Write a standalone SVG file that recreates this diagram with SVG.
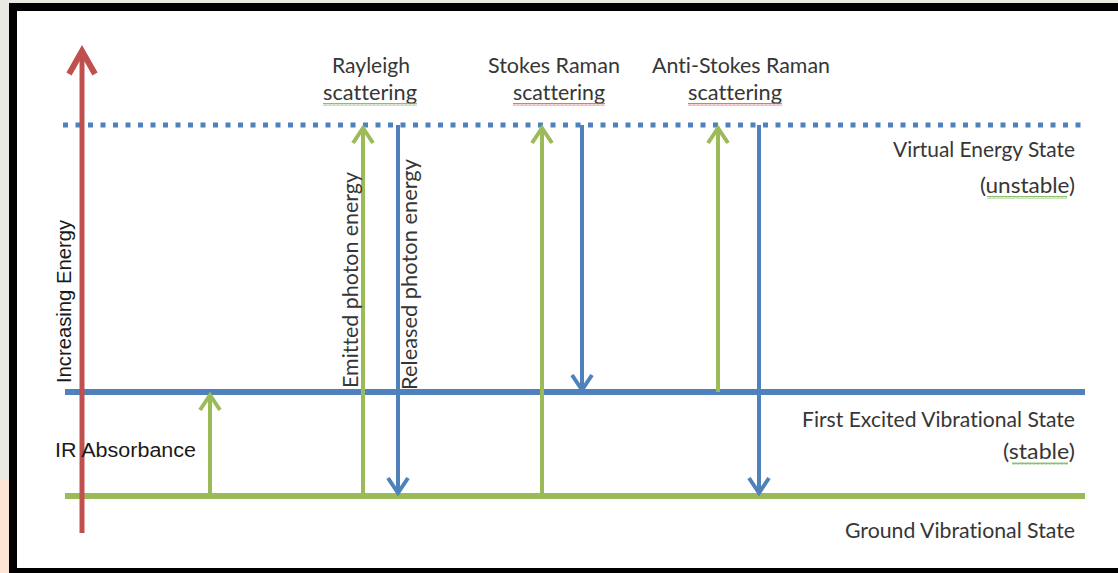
<svg xmlns="http://www.w3.org/2000/svg" width="1118" height="573" viewBox="0 0 1118 573">
  <style>
    .lbl { font-family: Lato, "Open Sans", sans-serif; font-size: 21px; fill: #363636; font-variant-ligatures: none; }
    .arial { font-family: "Liberation Sans", Arial, sans-serif; font-size: 20px; fill: #1a1a1a; }
    .g { stroke: #9bbb59; stroke-width: 4; fill: none; }
    .b { stroke: #4f81bd; stroke-width: 4; fill: none; }
    .level { stroke-width: 6; fill: none; }
  </style>
  <defs>
    <marker id="hg" markerUnits="userSpaceOnUse" markerWidth="30" markerHeight="30" viewBox="-20 -15 30 30" refX="0" refY="0" orient="auto" overflow="visible">
      <path d="M-15,-10 L0,0 L-15,10" fill="none" stroke="#9bbb59" stroke-width="4"/>
    </marker>
    <marker id="hb" markerUnits="userSpaceOnUse" markerWidth="30" markerHeight="30" viewBox="-20 -15 30 30" refX="0" refY="0" orient="auto" overflow="visible">
      <path d="M-15,-10 L0,0 L-15,10" fill="none" stroke="#4f81bd" stroke-width="4"/>
    </marker>
    <marker id="hr" markerUnits="userSpaceOnUse" markerWidth="40" markerHeight="40" viewBox="-30 -20 40 40" refX="0" refY="0" orient="auto" overflow="visible">
      <path d="M-23,-13 L0,0 L-23,13" fill="none" stroke="#c0504d" stroke-width="6"/>
    </marker>
    <pattern id="wg" width="4" height="3" patternUnits="userSpaceOnUse">
      <polyline points="0,2.5 1,0.5 2,2.5 3,0.5 4,2.5" fill="none" stroke="#6fb04a" stroke-width="0.8"/>
    </pattern>
    <pattern id="wr" width="4" height="3" patternUnits="userSpaceOnUse">
      <polyline points="0,2.5 1,0.5 2,2.5 3,0.5 4,2.5" fill="none" stroke="#e05050" stroke-width="0.8"/>
    </pattern>
  </defs>

  <!-- frame -->
  <g id="frame">
    <rect x="0" y="0" width="1118" height="573" fill="#e9e8e1"/>
    <rect x="0" y="480" width="9" height="93" fill="#fce5d6"/>
    <rect x="9" y="3" width="1109" height="570" fill="#000"/>
    <rect x="17" y="11" width="1101" height="557" fill="#ffffff"/>
  </g>

  <!-- energy levels -->
  <g id="virtual-state">
    <line x1="63" y1="125" x2="1088" y2="125" stroke="#4f81bd" stroke-width="5" stroke-dasharray="5 7.5"/>
    <text class="lbl" x="1075" y="157" text-anchor="end" textLength="182" lengthAdjust="spacingAndGlyphs">Virtual Energy State</text>
    <text class="lbl" x="1075" y="193" text-anchor="end" textLength="95" lengthAdjust="spacingAndGlyphs">(unstable)</text>
    <rect x="987" y="196" width="80" height="3" fill="url(#wg)"/>
  </g>
  <g id="first-excited-state">
    <line class="level" x1="65" y1="392" x2="1085" y2="392" stroke="#4f81bd"/>
    <text class="lbl" x="1075" y="427" text-anchor="end" textLength="273" lengthAdjust="spacingAndGlyphs">First Excited Vibrational State</text>
    <text class="lbl" x="1075" y="459" text-anchor="end" textLength="72" lengthAdjust="spacingAndGlyphs">(stable)</text>
    <rect x="1012" y="462" width="56" height="3" fill="url(#wg)"/>
  </g>
  <g id="ground-state">
    <line class="level" x1="65" y1="496" x2="1085" y2="496" stroke="#9bbb59"/>
    <text class="lbl" x="1075" y="538" text-anchor="end" textLength="230" lengthAdjust="spacingAndGlyphs">Ground Vibrational State</text>
  </g>

  <!-- axis -->
  <g id="energy-axis">
    <line x1="82" y1="533" x2="82" y2="51" stroke="#c0504d" stroke-width="5" marker-end="url(#hr)"/>
    <text class="arial" transform="translate(71,383) rotate(-90)" textLength="163" lengthAdjust="spacingAndGlyphs">Increasing Energy</text>
  </g>

  <!-- connectors -->
  <g id="connectors">
    <line class="g" x1="210" y1="496" x2="210" y2="395" marker-end="url(#hg)"/>
    <line class="g" x1="363" y1="496" x2="363" y2="128" marker-end="url(#hg)"/>
    <line class="b" x1="398" y1="125" x2="398" y2="493" marker-end="url(#hb)"/>
    <line class="g" x1="542" y1="496" x2="542" y2="128" marker-end="url(#hg)"/>
    <line class="b" x1="582" y1="125" x2="582" y2="390" marker-end="url(#hb)"/>
    <line class="g" x1="718" y1="392" x2="718" y2="128" marker-end="url(#hg)"/>
    <line class="b" x1="759" y1="125" x2="759" y2="493" marker-end="url(#hb)"/>
  </g>

  <g id="ir-absorbance">
    <text class="arial" x="55" y="457" font-size="20" textLength="141" lengthAdjust="spacingAndGlyphs" fill="#000">IR Absorbance</text>
  </g>

  <g id="rayleigh">
    <text class="lbl" x="332" y="73" textLength="78" lengthAdjust="spacingAndGlyphs">Rayleigh</text>
    <text class="lbl" x="323" y="100" textLength="94" lengthAdjust="spacingAndGlyphs">scattering</text>
    <rect x="323" y="103" width="94" height="3" fill="url(#wg)"/>
    <text class="lbl" transform="translate(358,388) rotate(-90)" textLength="216" lengthAdjust="spacingAndGlyphs">Emitted photon energy</text>
    <text class="lbl" transform="translate(417,390) rotate(-90)" textLength="231" lengthAdjust="spacingAndGlyphs">Released photon energy</text>
  </g>

  <g id="stokes">
    <text class="lbl" x="488" y="73" textLength="132" lengthAdjust="spacingAndGlyphs">Stokes Raman</text>
    <text class="lbl" x="513" y="100" textLength="92" lengthAdjust="spacingAndGlyphs">scattering</text>
    <rect x="513" y="103" width="92" height="3" fill="url(#wr)"/>
  </g>

  <g id="anti-stokes">
    <text class="lbl" x="652" y="73" textLength="178" lengthAdjust="spacingAndGlyphs">Anti-Stokes Raman</text>
    <text class="lbl" x="688" y="100" textLength="94" lengthAdjust="spacingAndGlyphs">scattering</text>
    <rect x="688" y="103" width="94" height="3" fill="url(#wr)"/>
  </g>
</svg>
